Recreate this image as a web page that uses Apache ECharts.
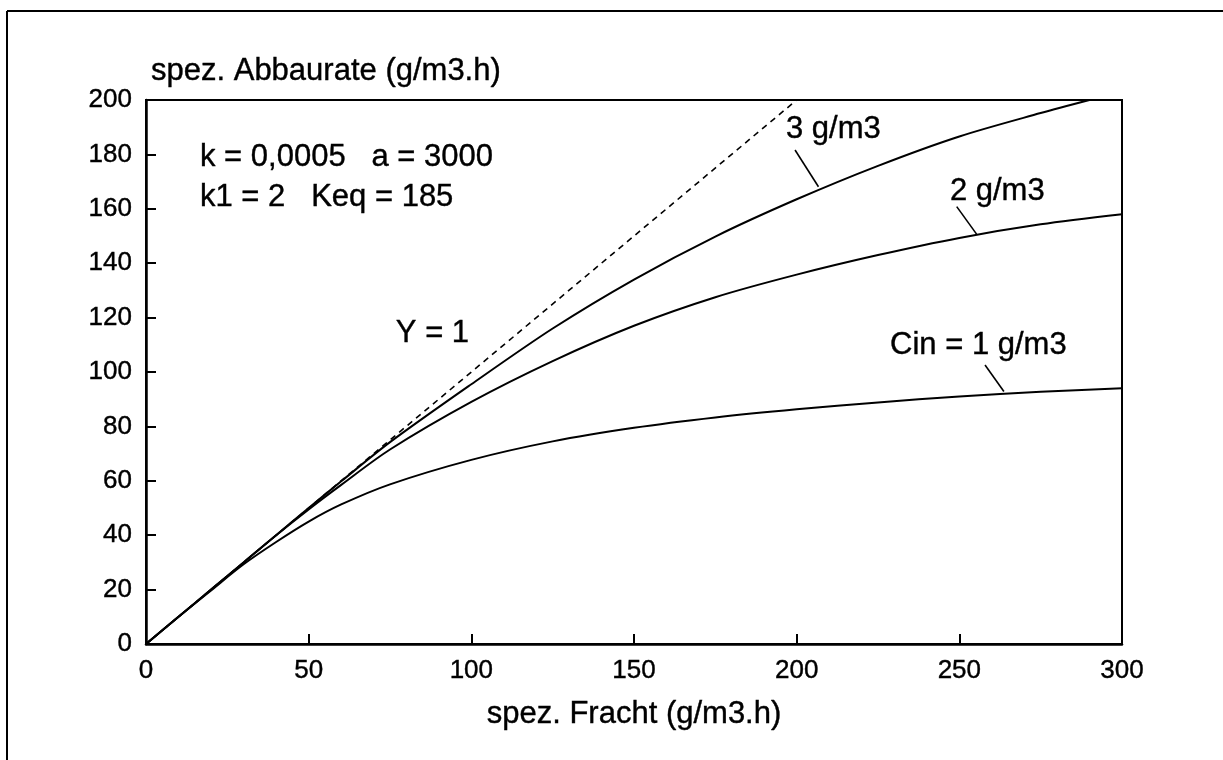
<!DOCTYPE html>
<html>
<head>
<meta charset="utf-8">
<script src="https://cdn.jsdelivr.net/npm/echarts@6/dist/echarts.min.js"></script>
<style>
html,body{margin:0;padding:0;background:#fff;}
#c{width:1223px;height:760px;}
</style>
</head>
<body>
<div id="c"></div>
<script>
// ---- data ----
const xTickInterval = 50;
const yTickInterval = 20;
const xs = [0, 10, 20, 30, 40, 50, 60, 75, 100, 125, 150, 175, 200, 225, 250, 275, 300];
const cin1 = [0, 10, 19.7, 29.3, 37.5, 45, 51.3, 58.7, 67.7, 74.5, 79.5, 83.3, 86.3, 88.8, 91, 92.7, 94];
const cin2 = [0, 10, 20, 30, 40, 49.5, 58.5, 71.5, 89, 104, 117, 127.5, 135.8, 143, 149.3, 154.3, 158];
const xs3 = [0, 10, 20, 30, 40, 50, 60, 75, 100, 125, 150, 175, 200, 225, 250, 275, 290];
const cin3 = [0, 10, 20, 30, 40, 50, 59.8, 74.2, 95.5, 116, 134, 149.8, 163.5, 175.8, 186.6, 195.2, 200];
const lineY1x = [0, 200];
const lineY1y = [0, 200];
const seriesNames = ['Cin = 1 g/m3', '2 g/m3', '3 g/m3', 'Y = 1'];
// annotation texts and their anchor (left, middle) in data coordinates
const noteTexts = ['k = 0,0005   a = 3000', 'k1 = 2   Keq = 185', 'Y = 1', '3 g/m3', '2 g/m3', 'Cin = 1 g/m3'];
const noteX = [16.6, 16.6, 76.8, 196.7, 247.1, 228.7];
const noteY = [178.7, 164.3, 114, 189.3, 166.5, 109.6];
// leader lines from label to curve (data coordinates)
const leaderX0 = [199.5, 249.2, 257.9];
const leaderY0 = [181.6, 160.8, 102.6];
const leaderX1 = [206.7, 255.3, 263.7];
const leaderY1 = [168.1, 150.7, 92.8];

// ---- chart ----
const FONT = '"Liberation Sans", Arial, Helvetica, sans-serif';
const chart = echarts.init(document.getElementById('c'), null, {renderer: 'canvas'});
const pairs = (a, b) => a.map((v, i) => [v, b[i]]);
const curveStyle = {color: '#000', width: 2};
const ink = {textBorderColor: '#000', textBorderWidth: 0.4};

const series = [
  {name: seriesNames[0], type: 'line', data: pairs(xs, cin1), smooth: 0.3, symbol: 'none', lineStyle: curveStyle, silent: true, z: 3},
  {name: seriesNames[1], type: 'line', data: pairs(xs, cin2), smooth: 0.3, symbol: 'none', lineStyle: curveStyle, silent: true, z: 3},
  {name: seriesNames[2], type: 'line', data: pairs(xs3, cin3), smooth: 0.3, symbol: 'none', lineStyle: curveStyle, silent: true, z: 3},
  {name: seriesNames[3], type: 'line', data: pairs(lineY1x, lineY1y), symbol: 'none', lineStyle: {color: '#000', width: 1.6, type: [6, 5]}, silent: true, z: 2}
];
leaderX0.forEach((x0, i) => {
  series.push({
    name: 'leader' + i, type: 'line', symbol: 'none', silent: true, z: 3,
    data: [[x0, leaderY0[i]], [leaderX1[i], leaderY1[i]]],
    lineStyle: {color: '#000', width: 1.6}
  });
});

chart.setOption({
  animation: false,
  backgroundColor: '#fff',
  textStyle: {fontFamily: FONT, color: '#000'},
  grid: {left: 146, right: 101, top: 100, bottom: 116, show: true, borderColor: '#000', borderWidth: 2, backgroundColor: 'transparent'},
  xAxis: {
    type: 'value', min: 0, max: 300, interval: xTickInterval,
    name: 'spez. Fracht (g/m3.h)', nameLocation: 'middle', nameGap: 70,
    nameTextStyle: Object.assign({fontFamily: FONT, fontSize: 31, color: '#000', verticalAlign: 'middle'}, ink),
    axisLine: {show: true, onZero: false, lineStyle: {color: '#000', width: 2.5}},
    axisTick: {show: true, inside: true, length: 10, lineStyle: {color: '#000', width: 2}},
    axisLabel: Object.assign({fontFamily: FONT, fontSize: 26, color: '#000', margin: 14}, ink),
    splitLine: {show: false}
  },
  yAxis: {
    type: 'value', min: 0, max: 200, interval: yTickInterval,
    name: 'spez. Abbaurate (g/m3.h)', nameLocation: 'end', nameGap: 29,
    nameTextStyle: Object.assign({fontFamily: FONT, fontSize: 31, color: '#000', align: 'left', verticalAlign: 'middle', padding: [0, 0, 0, 5]}, ink),
    axisLine: {show: true, onZero: false, lineStyle: {color: '#000', width: 2.5}},
    axisTick: {show: true, inside: true, length: 10, lineStyle: {color: '#000', width: 2}},
    axisLabel: Object.assign({fontFamily: FONT, fontSize: 26, color: '#000', margin: 14}, ink),
    splitLine: {show: false}
  },
  series: series
});

const graphics = [
  {type: 'line', shape: {x1: 7, y1: 11, x2: 1223, y2: 11}, style: {stroke: '#000', lineWidth: 2}, silent: true},
  {type: 'line', shape: {x1: 7, y1: 11, x2: 7, y2: 760}, style: {stroke: '#000', lineWidth: 2}, silent: true}
];
noteTexts.forEach((t, i) => {
  const p = chart.convertToPixel({gridIndex: 0}, [noteX[i], noteY[i]]);
  graphics.push({
    type: 'text', x: p[0], y: p[1], silent: true, z: 10,
    style: {text: t, fontFamily: FONT, fontSize: 31, fill: '#000', stroke: '#000', lineWidth: 0.4, textAlign: 'left', textVerticalAlign: 'middle'}
  });
});
chart.setOption({graphic: graphics});
</script>
</body>
</html>
